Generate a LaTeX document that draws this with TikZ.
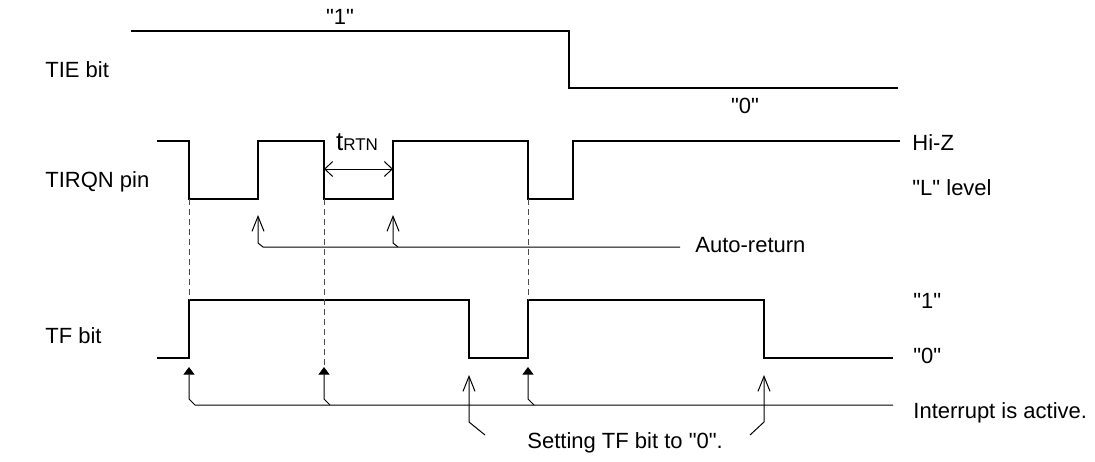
\documentclass[tikz,border=0pt]{standalone}
\usepackage{fontspec}
\setmainfont{Liberation Sans}
\usetikzlibrary{arrows.meta,positioning}
\newcommand{\dq}{\textquotedbl}

\begin{document}
\begin{tikzpicture}[x=0.5pt, y=-0.5pt, every node/.style={inner sep=0pt, font=\fontsize{11}{13}\selectfont},
	sig/.style={line width=1pt},
	thin/.style={line width=0.5pt},
	guide/.style={line width=0.5pt, dash pattern=on 3pt off 2pt, black!70},
	barb/.style={thin, {Straight Barb[length=7.5pt,width=6pt]}-},
	wedge/.style={thin, {Triangle[length=3.8pt,width=5.5pt]}-},
	span/.style={thin, {Straight Barb[length=4pt,width=7.5pt]}-{Straight Barb[length=4pt,width=7.5pt]}}]
	\useasboundingbox (0,0) rectangle (1095,461);
	% signal names
	\node[anchor=base west] (tie) at (45,77) {TIE bit};
	\node[anchor=base west] (tirqn) at (45,187) {TIRQN pin};
	\node[anchor=base west] (tf) at (45,343) {TF bit};
	% TIE bit
	\draw[sig] (131,31) -| (569,88) -- (898,88);
	\node[anchor=base] (tie1) at (340,24) {\dq 1\dq};
	\node[anchor=base] (tie0) at (745,113) {\dq 0\dq};
	% TIRQN pin
	\draw[sig] (157,141) -| (189,199) -| (258,141) -| (324,199) -| (393,141) -| (528,199) -| (573,141) -- (900,141);
	\node[anchor=base west] (hiz) at (912,150) {Hi-Z};
	\node[anchor=base west] (llev) at (912,195) {\dq L\dq\ level};
	\draw[span] (324,169) -- (393,169);
	\node[anchor=base] (trtn) at (357,150) {{\fontsize{13}{13}\selectfont t}{\fontsize{8.5}{9}\selectfont RTN}};
	% TF bit
	\draw[sig] (157,358) -| (189,300) -| (469,358) -| (528,300) -| (764,358) -- (893,358);
	\node[anchor=base west] (tf1) at (913,308) {\dq 1\dq};
	\node[anchor=base west] (tf0) at (913,363) {\dq 0\dq};
	% guides
	\draw[guide] (189,199) -- (189,300);
	\draw[guide] (324,199) -- (324,366);
	\draw[guide] (528,199) -- (528,300);
	% auto-return
	\coordinate (ret1) at (258,215);
	\coordinate (ret2) at (393,215);
	\coordinate (retend) at (680,247);
	\draw[barb] (ret1) -- (258,243) -- (263,247) -- (retend);
	\draw[barb] (ret2) -- (393,243) -- (398,247);
	\node[anchor=base west] (auto) at (695,252) {Auto-return};
	% interrupt
	\coordinate (int1) at (189,367);
	\coordinate (int2) at (324,367);
	\coordinate (int3) at (528,367);
	\coordinate (intend) at (893,405);
	\draw[wedge] (int1) -- (189,399) -- (195,405) -- (intend);
	\draw[wedge] (int2) -- (324,399) -- (330,405);
	\draw[wedge] (int3) -- (528,399) -- (534,405);
	\node[anchor=base west] (intact) at (913,418) {Interrupt is active.};
	% clearing TF
	\coordinate (clr1) at (469,375);
	\coordinate (clr2) at (764,375);
	\draw[barb] (clr1) -- (469,422) -- (485,435);
	\draw[barb] (clr2) -- (764,422) -- (750,435);
	\node[anchor=base west] (setting) at (527,448) {Setting TF bit to \dq 0\dq.};
\end{tikzpicture}
\end{document}
